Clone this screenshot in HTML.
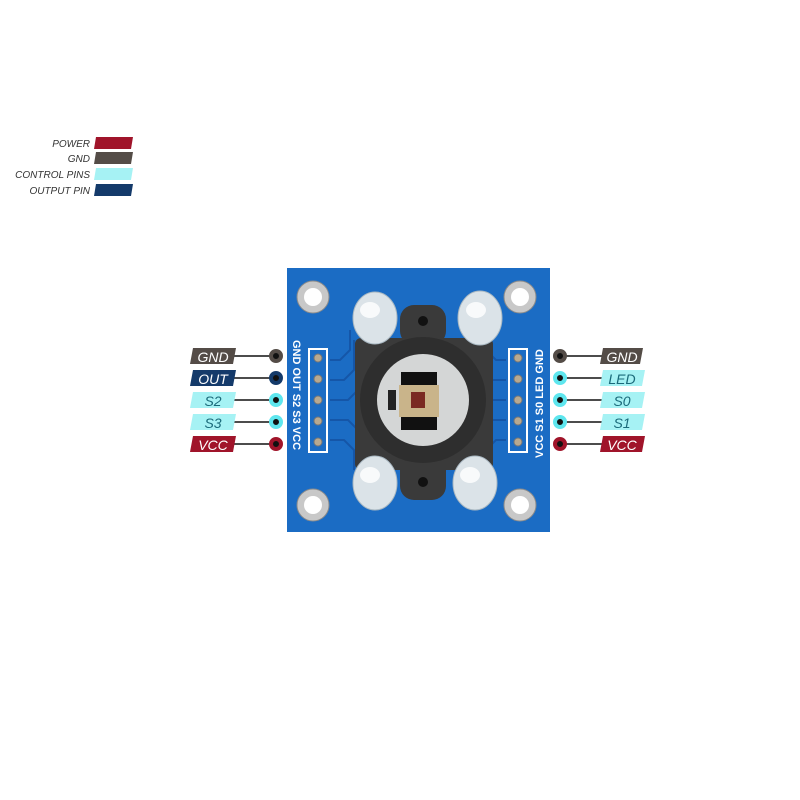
<!DOCTYPE html>
<html><head><style>
html,body{margin:0;padding:0;background:#fff;}
svg{display:block;}
text{font-family:"Liberation Sans",sans-serif;font-style:italic;}
text.n{font-style:normal;}
</style></head><body>
<svg width="800" height="800" viewBox="0 0 800 800">
<g font-size="10" fill="#333" text-anchor="end">
<text x="90" y="147">POWER</text>
<text x="90" y="162">GND</text>
<text x="90" y="178">CONTROL PINS</text>
<text x="90" y="194">OUTPUT PIN</text>
</g>
<polygon points="96,137 133,137 131,149 94,149" fill="#a0142a"/>
<polygon points="96,152 133,152 131,164 94,164" fill="#544c47"/>
<polygon points="96,168 133,168 131,180 94,180" fill="#a6f2f4"/>
<polygon points="96,184 133,184 131,196 94,196" fill="#143a6a"/>

<rect x="287" y="268" width="263" height="264" fill="#1b6cc4"/>
<g stroke="#1556a8" stroke-width="2" fill="none">
<path d="M330,360 h10 l10,-10 v-20"/><path d="M330,380 h14 l10,-10 v-30"/><path d="M330,400 h18 l8,-8"/><path d="M330,420 h18 l8,8"/><path d="M330,440 h14 l10,10 v20"/>
<path d="M506,360 h-10 l-10,-10"/><path d="M506,380 h-14"/><path d="M506,400 h-14"/><path d="M506,420 h-14"/><path d="M506,440 h-10 l-10,10"/>
</g>
<g fill="#c8c8c8" stroke="#8a8a8a" stroke-width="1">
<circle cx="313" cy="297" r="16"/><circle cx="520" cy="297" r="16"/><circle cx="313" cy="505" r="16"/><circle cx="520" cy="505" r="16"/>
</g>
<g fill="#fff"><circle cx="313" cy="297" r="9"/><circle cx="520" cy="297" r="9"/><circle cx="313" cy="505" r="9"/><circle cx="520" cy="505" r="9"/></g>
<rect x="355" y="338" width="138" height="132" rx="6" fill="#3a3a3a"/>
<rect x="400" y="305" width="46" height="40" rx="14" fill="#3a3a3a"/>
<rect x="400" y="455" width="46" height="45" rx="14" fill="#3a3a3a"/>
<circle cx="423" cy="321" r="5" fill="#111"/><circle cx="423" cy="482" r="5" fill="#111"/>
<circle cx="423" cy="400" r="63" fill="#2e2e2e"/>
<circle cx="423" cy="400" r="46" fill="#d4d6d6"/>
<rect x="401" y="372" width="36" height="58" fill="#111"/>
<rect x="399" y="385" width="40" height="32" fill="#c9b48a"/>
<rect x="411" y="392" width="14" height="16" fill="#7a2a22"/>
<rect x="388" y="390" width="8" height="20" fill="#222"/>
<g fill="#dbe3e8" stroke="#a9b8c2" stroke-width="1">
<ellipse cx="375" cy="318" rx="22" ry="26"/><ellipse cx="480" cy="318" rx="22" ry="27"/>
<ellipse cx="375" cy="483" rx="22" ry="27"/><ellipse cx="475" cy="483" rx="22" ry="27"/>
</g>
<g fill="#fff" opacity="0.8"><ellipse cx="370" cy="310" rx="10" ry="8"/><ellipse cx="476" cy="310" rx="10" ry="8"/><ellipse cx="370" cy="475" rx="10" ry="8"/><ellipse cx="470" cy="475" rx="10" ry="8"/></g>
<rect x="309" y="349" width="18" height="103" fill="none" stroke="#fff" stroke-width="2"/>
<rect x="509" y="349" width="18" height="103" fill="none" stroke="#fff" stroke-width="2"/>
<g fill="#b8a990" stroke="#777">
<circle cx="318" cy="358" r="4"/><circle cx="318" cy="379" r="4"/><circle cx="318" cy="400" r="4"/><circle cx="318" cy="421" r="4"/><circle cx="318" cy="442" r="4"/>
<circle cx="518" cy="358" r="4"/><circle cx="518" cy="379" r="4"/><circle cx="518" cy="400" r="4"/><circle cx="518" cy="421" r="4"/><circle cx="518" cy="442" r="4"/>
</g>
<g font-size="11" font-weight="bold" fill="#fff">
<text class="n" transform="translate(293,340) rotate(90)">GND OUT S2 S3 VCC</text>
<text class="n" transform="translate(543,458) rotate(-90)">VCC S1 S0 LED GND</text>
</g>
<g stroke="#111" stroke-width="1.5">
<line x1="233" y1="356" x2="276" y2="356"/><line x1="233" y1="378" x2="276" y2="378"/><line x1="233" y1="400" x2="276" y2="400"/><line x1="233" y1="422" x2="276" y2="422"/><line x1="233" y1="444" x2="276" y2="444"/>
<line x1="560" y1="356" x2="602" y2="356"/><line x1="560" y1="378" x2="602" y2="378"/><line x1="560" y1="400" x2="602" y2="400"/><line x1="560" y1="422" x2="602" y2="422"/><line x1="560" y1="444" x2="602" y2="444"/>
</g>
<polygon points="193,348 236,348 233,364 190,364" fill="#544c47"/>
<polygon points="193,370 236,370 233,386 190,386" fill="#143a6a"/>
<polygon points="193,392 236,392 233,408 190,408" fill="#a6f2f4"/>
<polygon points="193,414 236,414 233,430 190,430" fill="#a6f2f4"/>
<polygon points="193,436 236,436 233,452 190,452" fill="#a0142a"/>
<polygon points="603,348 643,348 640,364 600,364" fill="#544c47"/>
<polygon points="603,370 645,370 642,386 600,386" fill="#a6f2f4"/>
<polygon points="603,392 645,392 642,408 600,408" fill="#a6f2f4"/>
<polygon points="603,414 645,414 642,430 600,430" fill="#a6f2f4"/>
<polygon points="603,436 645,436 642,452 600,452" fill="#a0142a"/>
<g font-size="14" text-anchor="middle">
<text x="213" y="362" fill="#fff">GND</text><text x="213" y="384" fill="#fff">OUT</text>
<text x="213" y="406" fill="#1a6a7a">S2</text><text x="213" y="428" fill="#1a6a7a">S3</text>
<text x="213" y="450" fill="#fff">VCC</text>
<text x="622" y="362" fill="#fff">GND</text><text x="622" y="384" fill="#1a6a7a">LED</text>
<text x="622" y="406" fill="#1a6a7a">S0</text><text x="622" y="428" fill="#1a6a7a">S1</text>
<text x="622" y="450" fill="#fff">VCC</text>
</g>
<g stroke-width="4">
<circle cx="276" cy="356" r="5" fill="#111" stroke="#544c47"/>
<circle cx="276" cy="378" r="5" fill="#111" stroke="#143a6a"/>
<circle cx="276" cy="400" r="5" fill="#111" stroke="#5ee6ee"/>
<circle cx="276" cy="422" r="5" fill="#111" stroke="#5ee6ee"/>
<circle cx="276" cy="444" r="5" fill="#111" stroke="#a0142a"/>
<circle cx="560" cy="356" r="5" fill="#111" stroke="#544c47"/>
<circle cx="560" cy="378" r="5" fill="#111" stroke="#5ee6ee"/>
<circle cx="560" cy="400" r="5" fill="#111" stroke="#5ee6ee"/>
<circle cx="560" cy="422" r="5" fill="#111" stroke="#5ee6ee"/>
<circle cx="560" cy="444" r="5" fill="#111" stroke="#a0142a"/>
</g>
</svg>
</body></html>
